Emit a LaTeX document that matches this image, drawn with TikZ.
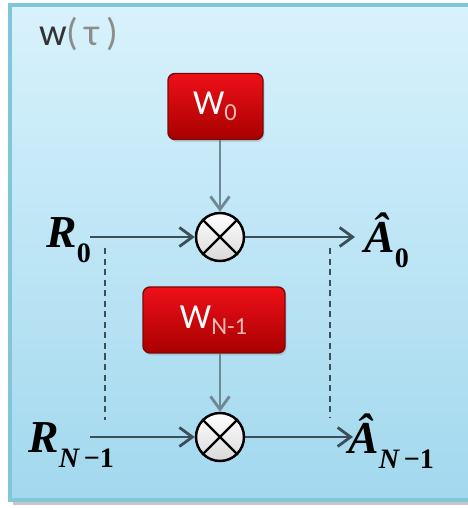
\documentclass[tikz,border=0pt]{standalone}
\usepackage{amsmath}
\usepackage{amssymb}
\usepackage{fontspec}
\usetikzlibrary{arrows.meta}
\usetikzlibrary{shadows}

\newfontfamily\boxfont{Carlito}
\newfontfamily\sigfont{Liberation Serif}

\definecolor{paneltop}{HTML}{D8F2FC}
\definecolor{panelbot}{HTML}{A2D8EE}
\definecolor{panelrim}{HTML}{80C6D8}
\definecolor{wtop}{HTML}{EE1018}
\definecolor{wbot}{HTML}{A80000}
\definecolor{wrim}{HTML}{7A0A0A}
\definecolor{subpink}{HTML}{F4B8B8}
\definecolor{linedark}{HTML}{3C4E58}
\definecolor{linetap}{HTML}{6E8894}

% signal subscript, set low and fairly large
\newcommand{\sigsub}[1]{\raisebox{-8pt}{\fontsize{16}{16}\selectfont #1}}

\begin{document}
\begin{tikzpicture}[
  panel/.style={draw=panelrim, line width=1.8pt, top color=paneltop, bottom color=panelbot},
  weight/.style={draw=wrim, line width=0.8pt, rounded corners=4pt, top color=wtop, bottom color=wbot,
    text=white, font=\boxfont\fontsize{20}{22}\selectfont, minimum height=1.32cm,
    drop shadow={opacity=0.25, shadow xshift=0.03cm, shadow yshift=-0.05cm}},
  mult/.style={circle, draw=black, line width=1.4pt, top color=white, bottom color=gray!30,
    minimum size=0.96cm, inner sep=0pt},
  sig/.style={inner sep=0pt, font=\sigfont\bfseries\itshape\fontsize{26}{30}\selectfont},
  flow/.style={draw=linedark, line width=1.6pt, -{Straight Barb[length=2.6mm,width=3.8mm]}},
  tap/.style={draw=linetap, line width=1.6pt, -{Straight Barb[length=2.6mm,width=3.8mm]}},
  link/.style={draw=linedark, line width=1.4pt, dash pattern=on 3.5pt off 2.5pt}
]
\clip (0,0) rectangle (9.36,10.16);
\fill[gray!45] (0.26,0.06) rectangle (9.9,9.98);
\draw[panel] (0.2,0.16) rectangle (9.9,10.06);
\node[anchor=west, font=\boxfont\fontsize{22}{24}\selectfont] (tau) at (0.66,9.48)
  {{\color{black!80}w}{\color{black!45}(\,τ\,)}};

% weights
\node[weight, minimum width=1.9cm] (w0) at (4.31,8.03) {W{\color{subpink}\textsubscript{0}}};
\node[weight, minimum width=2.84cm] (w1) at (4.28,3.76) {W{\color{subpink}\textsubscript{N-1}}};

% multipliers
\node[mult] (m0) at (4.4,5.42) {};
\node[mult] (m1) at (4.4,1.42) {};
\draw[line width=1.4pt] (m0.north east) -- (m0.south west);
\draw[line width=1.4pt] (m0.north west) -- (m0.south east);
\draw[line width=1.4pt] (m1.north east) -- (m1.south west);
\draw[line width=1.4pt] (m1.north west) -- (m1.south east);

% inputs and outputs
\coordinate (in0) at (1.8,5.42);
\coordinate (in1) at (1.8,1.42);
\coordinate (out0) at (7.1,5.42);
\coordinate (out1) at (7.06,1.42);
\node[sig, anchor=base west] (r0) at (0.92,5.2) {R\sigsub{\upshape 0}};
\node[sig, anchor=base west] (r1) at (0.56,1.1) {R\sigsub{N\,{\upshape−1}}};
\node[sig, anchor=base west] (a0) at (7.28,5.1) {Â\sigsub{\upshape 0}};
\node[sig, anchor=base west] (a1) at (6.96,1.08) {Â\sigsub{N\,{\upshape−1}}};

\draw[flow] (in0) -- (m0);
\draw[flow] (m0) -- (out0);
\draw[flow] (in1) -- (m1);
\draw[flow] (m1) -- (out1);
\draw[tap] (w0.south -| m0) -- (m0);
\draw[tap] (w1.south -| m1) -- (m1);

% dotted links between the two rows
\coordinate (lt) at (2.1,5.2);
\coordinate (lb) at (2.1,1.76);
\coordinate (rt) at (6.6,5.2);
\coordinate (rb) at (6.6,1.8);
\draw[link] (lt) -- (lb);
\draw[link] (rt) -- (rb);
\end{tikzpicture}
\end{document}
